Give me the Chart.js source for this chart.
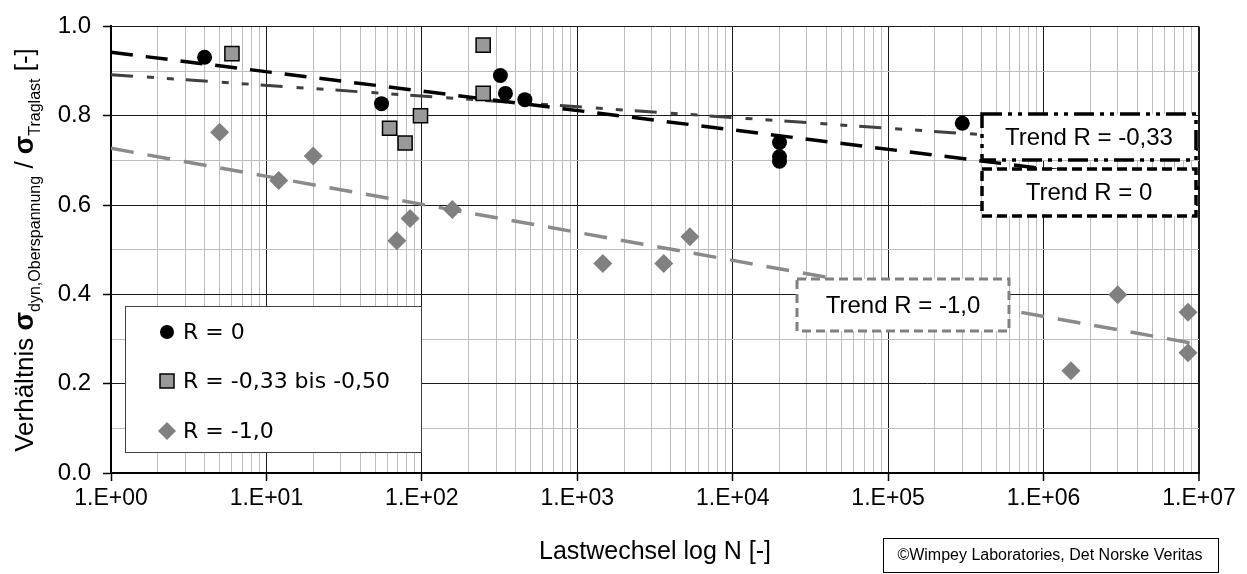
<!DOCTYPE html>
<html><head><meta charset="utf-8">
<script src="https://cdn.jsdelivr.net/npm/chart.js@4.4.0/dist/chart.umd.min.js"></script>
<style>html,body{margin:0;padding:0;background:#fff;}#wrap{width:1247px;height:574px;position:relative;}</style>
</head><body><div id="wrap"><canvas id="c" width="1247" height="574"></canvas></div>
<script>
// ---- data ----
const seriesLabels = ['R = 0', 'R = -0,33 bis -0,50', 'R = -1,0'];
const nR0   = [4, 55, 320, 345, 460, 20000, 20000, 20000, 300000];
const vR0   = [0.931, 0.827, 0.890, 0.850, 0.836, 0.740, 0.708, 0.698, 0.783];
const nR033 = [6, 62, 78, 98, 248, 248];
const vR033 = [0.939, 0.772, 0.739, 0.800, 0.958, 0.850];
const nR1   = [5, 12, 20, 69, 84, 157, 1460, 3600, 5300, 1500000, 3000000, 8500000, 8500000];
const vR1   = [0.763, 0.655, 0.710, 0.520, 0.570, 0.590, 0.469, 0.469, 0.529, 0.229, 0.399, 0.360, 0.269];
const trendLabels = ['Trend R = 0', 'Trend R = -0,33', 'Trend R = -1,0'];
const trendN   = [1, 10000000];
const trendR0  = [0.942, 0.638];
const trendR033= [0.892, 0.724];
const trendR1  = [0.727, 0.288];
const xTickLabels = ['1.E+00','1.E+01','1.E+02','1.E+03','1.E+04','1.E+05','1.E+06','1.E+07'];
const yTickLabels = ['0.0','0.2','0.4','0.6','0.8','1.0'];
const xTitle = 'Lastwechsel log N [-]';
const yTitleParts = [['Verhältnis ', 'n'], ['σ', 's'], ['dyn,Oberspannung', 'b'], [' / ', 'n'], ['σ', 's'], ['Traglast', 'b'], [' [-]', 'n']];
const sourceNote = '©Wimpey Laboratories, Det Norske Veritas';

const pts = (xs, ys) => xs.map((x, i) => ({x: x, y: ys[i]}));

const bgPlugin = {
  id: 'bg',
  beforeDraw(chart) {
    const c = chart.ctx; c.save(); c.fillStyle = '#fff'; c.fillRect(0, 0, chart.width, chart.height); c.restore();
  }
};

function boxDraw(ctx, x, y, w, h, color, lw, dash, text, font) {
  ctx.save();
  ctx.fillStyle = '#fff';
  ctx.fillRect(x, y, w, h);
  ctx.setLineDash(dash);
  ctx.lineWidth = lw;
  ctx.strokeStyle = color;
  ctx.strokeRect(x, y, w, h);
  ctx.setLineDash([]);
  ctx.fillStyle = '#000';
  ctx.font = font;
  ctx.textAlign = 'center';
  ctx.textBaseline = 'middle';
  ctx.fillText(text, x + w / 2, y + h / 2 + 1);
  ctx.restore();
}

const overlayPlugin = {
  id: 'overlay',
  afterDatasetsDraw(chart) {
    const ctx = chart.ctx;
    // trend label boxes
    boxDraw(ctx, 982, 114, 214, 46, '#000', 3.5, [20, 6, 4, 6, 4, 6], trendLabels[1], '24px "Liberation Sans"');
    boxDraw(ctx, 982, 169, 214, 47, '#000', 3.5, [10, 5], trendLabels[0], '24px "Liberation Sans"');
    boxDraw(ctx, 797, 279, 212, 52, '#808080', 3, [9, 5], trendLabels[2], '24px "Liberation Sans"');
    // legend
    ctx.save();
    ctx.fillStyle = '#fff';
    ctx.fillRect(125, 306, 296, 146);
    ctx.lineWidth = 1; ctx.strokeStyle = '#404040';
    ctx.strokeRect(125.5, 306.5, 296, 146);
    const rows = [332, 381, 431];
    const ds = chart.data.datasets;
    ctx.font = '22px "DejaVu Sans"';
    ctx.textBaseline = 'middle'; ctx.textAlign = 'left';
    for (let i = 0; i < 3; i++) {
      const y = rows[i], x = 167;
      ctx.beginPath();
      if (i === 0) { ctx.arc(x, y, 7, 0, Math.PI * 2); ctx.fillStyle = '#000'; ctx.fill(); }
      else if (i === 1) { ctx.rect(x - 7, y - 7, 14, 14); ctx.fillStyle = '#999'; ctx.fill(); ctx.lineWidth = 1.5; ctx.strokeStyle = '#000'; ctx.stroke(); }
      else { ctx.moveTo(x, y - 9); ctx.lineTo(x + 9, y); ctx.lineTo(x, y + 9); ctx.lineTo(x - 9, y); ctx.closePath(); ctx.fillStyle = '#808080'; ctx.fill(); }
      ctx.fillStyle = '#000';
      ctx.fillText(ds[i].label, 183, y + 1);
    }
    ctx.restore();
  },
  afterDraw(chart) {
    const ctx = chart.ctx;
    ctx.save();
    // x title
    ctx.font = '25px "Liberation Sans"';
    ctx.fillStyle = '#000'; ctx.textAlign = 'center'; ctx.textBaseline = 'middle';
    ctx.fillText(xTitle, 655, 552);
    // source note box
    ctx.fillStyle = '#fff'; ctx.fillRect(883, 538, 335, 35);
    ctx.lineWidth = 1; ctx.strokeStyle = '#000'; ctx.strokeRect(883.5, 538.5, 335, 34);
    ctx.fillStyle = '#000'; ctx.font = '16px "Liberation Sans"';
    ctx.fillText(sourceNote, 1050, 556);
    // y title with subscripts
    const fonts = {n: '26px "Liberation Sans"', s: 'bold 27px "Liberation Sans"', b: '16px "Liberation Sans"'};
    let total = 0;
    for (const [t, k] of yTitleParts) { ctx.font = fonts[k]; total += ctx.measureText(t).width; }
    ctx.translate(33, 250);
    ctx.rotate(-Math.PI / 2);
    ctx.textAlign = 'left'; ctx.textBaseline = 'alphabetic';
    let xx = -total / 2;
    for (const [t, k] of yTitleParts) {
      ctx.font = fonts[k];
      ctx.fillText(t, xx, k === 'b' ? 7 : 0);
      xx += ctx.measureText(t).width;
    }
    ctx.restore();
  }
};

const xMajor = v => Math.abs(Math.log10(v) - Math.round(Math.log10(v))) < 1e-9;

new Chart(document.getElementById('c'), {
  type: 'scatter',
  data: {
    datasets: [
      {label: seriesLabels[0], data: pts(nR0, vR0), pointStyle: 'circle', pointRadius: 7.5, backgroundColor: '#000', borderColor: '#000', borderWidth: 0, order: 0},
      {label: seriesLabels[1], data: pts(nR033, vR033), pointStyle: 'rect', pointRadius: 10, backgroundColor: '#999', borderColor: '#000', borderWidth: 1.5, order: 0},
      {label: seriesLabels[2], data: pts(nR1, vR1), pointStyle: 'rectRot', pointRadius: 9.5, backgroundColor: '#808080', borderColor: '#808080', borderWidth: 0, order: 0},
      {label: trendLabels[0], data: pts(trendN, trendR0), showLine: true, pointRadius: 0, borderColor: '#000', borderWidth: 3.5, borderDash: [22, 13], order: 2},
      {label: trendLabels[1], data: pts(trendN, trendR033), showLine: true, pointRadius: 0, borderColor: '#404040', borderWidth: 3, borderDash: [22, 14, 7, 13, 7, 12], order: 2},
      {label: trendLabels[2], data: pts(trendN, trendR1), showLine: true, pointRadius: 0, borderColor: '#8a8a8a', borderWidth: 3.5, borderDash: [23, 14], order: 2}
    ]
  },
  options: {
    responsive: false,
    animation: false,
    devicePixelRatio: 1,
    layout: {padding: {left: 0, right: 48, top: 23, bottom: 0}},
    plugins: {legend: {display: false}, tooltip: {enabled: false}},
    scales: {
      x: {
        type: 'logarithmic', min: 1, max: 1e7, position: 'bottom',
        afterBuildTicks: s => {
          const t = [];
          for (let e = 0; e < 7; e++) for (let m = 1; m < 10; m++) t.push({value: m * Math.pow(10, e), major: m === 1});
          t.push({value: 1e7, major: true});
          s.ticks = t;
        },
        afterFit: s => { s.height = 101; },
        ticks: {
          autoSkip: false, maxRotation: 0, minRotation: 0, padding: 4,
          font: {family: 'Liberation Sans', size: 23}, color: '#000',
          callback: v => xMajor(v) ? xTickLabels[Math.round(Math.log10(v))] : ''
        },
        grid: {
          color: c => (c.tick && xMajor(c.tick.value)) ? '#1a1a1a' : '#bdbdbd',
          lineWidth: c => (c.tick && c.tick.value >= 1e7 - 1) ? 2 : 1,
          tickColor: c => (c.tick && xMajor(c.tick.value)) ? '#000' : 'rgba(0,0,0,0)',
          tickLength: 8, tickWidth: 1.5
        },
        border: {display: true, color: '#000', width: 2}
      },
      y: {
        type: 'linear', min: 0, max: 1,
        afterBuildTicks: s => {
          const t = [];
          for (let i = 0; i <= 10; i++) t.push({value: i / 10, major: i % 2 === 0});
          s.ticks = t;
        },
        afterFit: s => { s.width = 111; },
        ticks: {
          padding: 12, font: {family: 'Liberation Sans', size: 24}, color: '#000',
          callback: (v, i) => i % 2 === 0 ? yTickLabels[i / 2] : ''
        },
        grid: {
          color: c => (c.tick && Math.round(c.tick.value * 10) % 2 === 0) ? '#1a1a1a' : '#bdbdbd',
          lineWidth: 1,
          tickColor: c => (c.tick && Math.round(c.tick.value * 10) % 2 === 0) ? '#000' : 'rgba(0,0,0,0)',
          tickLength: 8, tickWidth: 1.5
        },
        border: {display: true, color: '#000', width: 2}
      }
    }
  },
  plugins: [bgPlugin, overlayPlugin]
});
</script>
</body></html>
